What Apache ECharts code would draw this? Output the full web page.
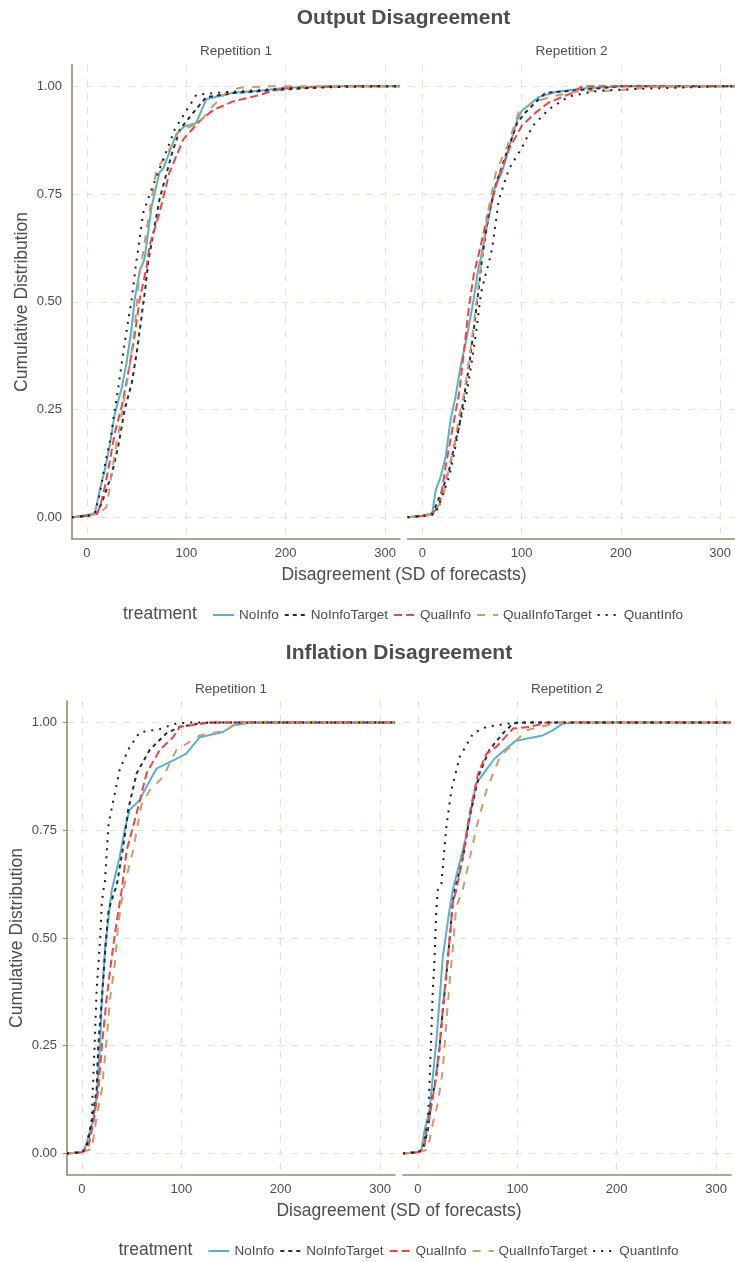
<!DOCTYPE html>
<html>
<head>
<meta charset="utf-8">
<script src="https://cdn.jsdelivr.net/npm/echarts@6/dist/echarts.min.js"></script>
<style>html,body{margin:0;padding:0;background:#fff;}#c{width:735px;height:1262px;}</style>
</head>
<body>
<div id="c"></div>
<script>
// ---------- DATA (ECDF points: [disagreement, cumulative share]) ----------
const treatments = ['NoInfo', 'NoInfoTarget', 'QualInfo', 'QualInfoTarget', 'QuantInfo'];
const xTicks = [0, 100, 200, 300];
const yTicks = [0, 0.25, 0.5, 0.75, 1];
const X_MIN = -15, X_MAX = 315;

// Output disagreement, Repetition 1
const outR1_NoInfo = [[0,0.005],[8,0.01],[13,0.063],[18,0.11],[23,0.167],[28,0.24],[35,0.30],[40,0.36],[45,0.44],[48,0.505],[53,0.57],[58,0.60],[65,0.72],[73,0.80],[77,0.81],[90,0.89],[98,0.907],[110,0.915],[120,0.97],[147,0.985],[174,0.99],[200,0.997],[240,1]];
const outR1_NoInfoTarget = [[0,0.003],[10,0.008],[16,0.04],[25,0.10],[31.5,0.165],[38,0.25],[45,0.31],[50,0.38],[55,0.466],[59,0.536],[62,0.598],[63,0.60],[73,0.737],[85,0.84],[93.5,0.90],[107,0.939],[120,0.975],[150,0.985],[200,0.993],[250,1]];
const outR1_QualInfo = [[0,0.003],[10,0.008],[13,0.024],[18,0.07],[23,0.13],[28,0.195],[35,0.257],[41.5,0.335],[48,0.42],[53,0.505],[60,0.58],[63,0.63],[73,0.706],[83,0.80],[97,0.877],[100,0.885],[113.6,0.92],[127,0.945],[147,0.965],[174,0.98],[187,0.99],[207,0.997],[260,1]];
const outR1_QualInfoTarget = [[0,0.003],[12,0.008],[19.8,0.024],[23,0.07],[28,0.148],[33,0.21],[38,0.28],[43,0.35],[48,0.44],[53,0.566],[57,0.62],[60,0.667],[70,0.807],[80,0.84],[91.7,0.892],[97,0.90],[113,0.915],[127,0.955],[140,0.985],[154,0.997],[180,1]];
const outR1_QuantInfo = [[0,0.003],[8,0.008],[13,0.055],[18,0.12],[24.8,0.195],[26.4,0.226],[31.5,0.30],[38,0.405],[45,0.505],[50,0.598],[52,0.628],[56.6,0.706],[63.3,0.75],[76.7,0.83],[88.4,0.90],[101.8,0.95],[110,0.98],[130,0.985],[200,0.995],[280,1]];

// Output disagreement, Repetition 2
const outR2_NoInfo = [[0,0.003],[10,0.01],[13.4,0.063],[18.4,0.094],[23.4,0.14],[28.4,0.226],[33.4,0.28],[38.4,0.35],[45,0.42],[51.6,0.505],[56.6,0.58],[58.6,0.598],[65,0.675],[73.5,0.77],[80,0.80],[86.9,0.853],[95.3,0.92],[100,0.943],[117,0.975],[134,0.987],[161,0.995],[200,1]];
const outR2_NoInfoTarget = [[0,0.003],[10,0.006],[20,0.063],[27,0.11],[32,0.165],[37,0.21],[42,0.28],[47,0.35],[52,0.44],[57,0.535],[60,0.598],[62,0.63],[67,0.706],[75,0.78],[84,0.84],[95.5,0.915],[104,0.94],[124,0.985],[151,0.99],[200,1]];
const outR2_QualInfo = [[0,0.003],[8,0.006],[17,0.024],[23.4,0.117],[30,0.202],[37,0.288],[42,0.388],[47,0.49],[52,0.566],[57,0.613],[67,0.714],[77,0.79],[87,0.853],[100,0.908],[114,0.939],[127,0.962],[151,0.985],[161,1]];
const outR2_QualInfoTarget = [[0,0.003],[10,0.006],[20,0.04],[27,0.117],[32,0.165],[37,0.233],[42,0.288],[47,0.365],[52,0.45],[57,0.55],[62,0.64],[67,0.72],[74,0.80],[87,0.87],[97,0.94],[110.9,0.962],[131,0.977],[161,0.99],[195,0.99],[240,1]];
const outR2_QuantInfo = [[0,0.003],[13,0.008],[20,0.05],[27,0.094],[32,0.148],[37,0.21],[44,0.28],[49,0.35],[54,0.427],[59,0.52],[64,0.566],[67,0.59],[70.6,0.628],[77,0.737],[87,0.807],[100.8,0.86],[111,0.908],[127.6,0.947],[147.7,0.977],[178,0.99],[228,0.995],[300,1]];

// Inflation disagreement, Repetition 1
const infR1_NoInfo = [[0,0.003],[3,0.012],[11.4,0.077],[14.8,0.131],[18.4,0.256],[20,0.356],[23.4,0.48],[26.8,0.549],[30,0.611],[38,0.688],[43,0.75],[48,0.797],[58,0.82],[66.6,0.858],[75,0.893],[91.8,0.912],[105,0.928],[118.6,0.966],[142,0.978],[152,0.993],[170,1]];
const infR1_NoInfoTarget = [[0,0.003],[5,0.012],[9.7,0.07],[14.8,0.147],[16.4,0.247],[20,0.356],[23.4,0.47],[26.8,0.565],[33.2,0.611],[34.9,0.62],[41.5,0.711],[46.5,0.797],[55,0.882],[68.3,0.937],[85,0.975],[98.5,0.99],[118.6,0.998],[130,1]];
const infR1_QualInfo = [[0,0.003],[6.4,0.015],[11.4,0.07],[16.4,0.147],[20,0.247],[25,0.363],[30,0.456],[33.2,0.51],[40,0.611],[45,0.703],[55,0.789],[65,0.882],[78.4,0.937],[91.8,0.966],[98.5,0.99],[122,0.998],[135,1]];
const infR1_QualInfoTarget = [[0,0.003],[10,0.01],[14.8,0.085],[20,0.147],[25,0.266],[28.1,0.356],[33.2,0.44],[36.6,0.533],[41.5,0.611],[51.5,0.703],[60,0.81],[68.3,0.843],[81.7,0.874],[95,0.936],[118.6,0.97],[145,0.982],[155,0.998],[175,1]];
const infR1_QuantInfo = [[0,0.003],[4,0.01],[9.7,0.077],[13,0.263],[14.8,0.38],[18.4,0.5],[20,0.58],[21.6,0.611],[23,0.626],[26.8,0.765],[31.7,0.82],[38,0.89],[46.5,0.937],[58,0.977],[78.4,0.985],[95,0.998],[110,1]];

// Inflation disagreement, Repetition 2
const infR2_NoInfo = [[0,0.003],[3.4,0.008],[6.7,0.054],[11.7,0.10],[15,0.178],[18.4,0.256],[21.8,0.356],[25,0.456],[31.8,0.565],[35,0.611],[48.5,0.735],[58.5,0.858],[67,0.885],[77,0.916],[88.7,0.939],[98.8,0.958],[125.5,0.97],[135.7,0.982],[145.8,0.998],[160,1]];
const infR2_NoInfoTarget = [[0,0.003],[5,0.008],[10,0.054],[13.4,0.116],[18.4,0.178],[21.8,0.247],[25,0.333],[28.5,0.41],[31.8,0.495],[35,0.58],[37,0.611],[45.5,0.688],[52,0.781],[62,0.882],[72,0.937],[85.6,0.975],[95.7,0.998],[110,1]];
const infR2_QualInfo = [[0,0.003],[6,0.01],[8.5,0.054],[11.7,0.085],[16.8,0.155],[21.8,0.247],[25,0.333],[28.5,0.418],[31.8,0.495],[35,0.58],[38.5,0.611],[44,0.673],[52,0.789],[60.6,0.882],[69,0.928],[79,0.944],[95.7,0.986],[112.6,0.99],[130,1]];
const infR2_QualInfoTarget = [[0,0.003],[9,0.008],[11.7,0.03],[15,0.07],[20,0.116],[25,0.194],[28.5,0.302],[31.8,0.395],[35,0.472],[38.5,0.572],[45,0.611],[54,0.704],[59,0.758],[69,0.843],[82.4,0.92],[95.8,0.951],[109,0.982],[129,0.993],[140,1]];
const infR2_QuantInfo = [[0,0.003],[5,0.008],[10,0.077],[11.7,0.163],[13.4,0.27],[15,0.38],[16.8,0.456],[18.5,0.565],[20,0.611],[23.6,0.626],[28.6,0.758],[33.7,0.843],[42,0.92],[55.6,0.975],[69,0.99],[92.5,0.998],[100,1]];

const panelData = [
  [outR1_NoInfo, outR1_NoInfoTarget, outR1_QualInfo, outR1_QualInfoTarget, outR1_QuantInfo],
  [outR2_NoInfo, outR2_NoInfoTarget, outR2_QualInfo, outR2_QualInfoTarget, outR2_QuantInfo],
  [infR1_NoInfo, infR1_NoInfoTarget, infR1_QualInfo, infR1_QualInfoTarget, infR1_QuantInfo],
  [infR2_NoInfo, infR2_NoInfoTarget, infR2_QualInfo, infR2_QualInfoTarget, infR2_QuantInfo]
];

// ---------- STYLE ----------
const LW = 2;
const STYLES = {
  NoInfo:         { color: '#5BB1C8', type: 'solid' },
  NoInfoTarget:   { color: '#1C3041', type: [2*LW, 2*LW] },
  QualInfo:       { color: '#EE4646', type: [4*LW, 2*LW] },
  QualInfoTarget: { color: '#C99B6D', type: [4*LW, 4*LW] },
  QuantInfo:      { color: '#1E1E1E', type: [1*LW, 3*LW] }
};
const FONT = '"Liberation Sans", Arial, sans-serif';
const TXT = '#4D4D4D';
const AXIS_COL = '#9A8770';
const GRID_COL = '#F1DFCE';

const grids = [
  { left: 72,    top: 64.8, width: 328, height: 474 },
  { left: 407.5, top: 64.8, width: 328, height: 474 },
  { left: 67,    top: 701,  width: 328, height: 474 },
  { left: 403,   top: 701,  width: 328, height: 474 }
];

function pad(arr) { return [[X_MIN, 0]].concat(arr, [[X_MAX, 1]]); }

const xAxes = grids.map((g, i) => ({
  type: 'value', gridIndex: i, min: X_MIN, max: X_MAX,
  axisLine: { show: true, onZero: false, lineStyle: { color: AXIS_COL, width: 1.6 } },
  axisTick: { show: false, customValues: xTicks },
  axisLabel: { customValues: xTicks, color: TXT, fontSize: 13, fontFamily: FONT, margin: 8 },
  splitLine: { show: true, lineStyle: { color: GRID_COL, width: 1, type: [7, 7] } }
}));
const yAxes = grids.map((g, i) => ({
  type: 'value', gridIndex: i, min: -0.05, max: 1.05,
  axisLine: { show: i % 2 === 0, onZero: false, lineStyle: { color: AXIS_COL, width: 1.6 } },
  axisTick: { show: i === 2, length: 4, customValues: yTicks, lineStyle: { color: AXIS_COL } },
  axisLabel: { show: i % 2 === 0, customValues: yTicks, color: TXT, fontSize: 13, fontFamily: FONT, margin: 10,
               formatter: v => v.toFixed(2) },
  splitLine: { show: true, lineStyle: { color: GRID_COL, width: 1, type: [7, 7] } }
}));

const series = [];
panelData.forEach((arrs, gi) => {
  arrs.forEach((arr, k) => {
    const name = treatments[k];
    const st = STYLES[name];
    series.push({
      type: 'line', name: name, xAxisIndex: gi, yAxisIndex: gi,
      data: pad(arr), showSymbol: false, symbol: 'none', clip: true,
      color: st.color,
      lineStyle: { color: st.color, width: LW, type: st.type },
      emphasis: { disabled: true }, silent: true
    });
  });
});

function txt(x, y, text, size, opts) {
  return Object.assign({
    type: 'text', x: x, y: y, silent: true,
    style: Object.assign({ text: text, fill: TXT, font: (opts && opts.bold ? 'bold ' : '') + size + 'px ' + FONT,
      textAlign: 'center', textVerticalAlign: 'middle' }, opts && opts.style)
  }, opts && opts.el);
}

const graphic = [
  txt(403.5, 18.5, 'Output Disagreement', 21, { bold: true }),
  txt(236, 51, 'Repetition 1', 13.5),
  txt(571.5, 51, 'Repetition 2', 13.5),
  txt(404, 575.5, 'Disagreement (SD of forecasts)', 17.5),
  txt(22, 302, 'Cumulative Distribution', 17.5, { el: { rotation: Math.PI / 2 } }),
  txt(123, 614, 'treatment', 17.5, { style: { textAlign: 'left' } }),

  txt(399, 653.5, 'Inflation Disagreement', 21, { bold: true }),
  txt(231, 689, 'Repetition 1', 13.5),
  txt(567, 689, 'Repetition 2', 13.5),
  txt(399, 1211, 'Disagreement (SD of forecasts)', 17.5),
  txt(17, 938, 'Cumulative Distribution', 17.5, { el: { rotation: Math.PI / 2 } }),
  txt(118.5, 1250, 'treatment', 17.5, { style: { textAlign: 'left' } })
];

const legendBase = {
  orient: 'horizontal', data: treatments, itemWidth: 21, itemHeight: 14, itemGap: 5,
  selectedMode: false,
  itemStyle: { color: 'rgba(0,0,0,0)', borderWidth: 0, opacity: 0 },
  textStyle: { color: TXT, fontSize: 13.5, fontFamily: FONT }
};

const chart = echarts.init(document.getElementById('c'), null, { renderer: 'canvas' });
chart.setOption({
  backgroundColor: '#ffffff',
  animation: false,
  textStyle: { fontFamily: FONT },
  grid: grids,
  xAxis: xAxes,
  yAxis: yAxes,
  legend: [
    Object.assign({}, legendBase, { left: 207, top: 603 }),
    Object.assign({}, legendBase, { left: 202.5, top: 1239 })
  ],
  series: series,
  graphic: graphic
});
</script>
</body>
</html>
